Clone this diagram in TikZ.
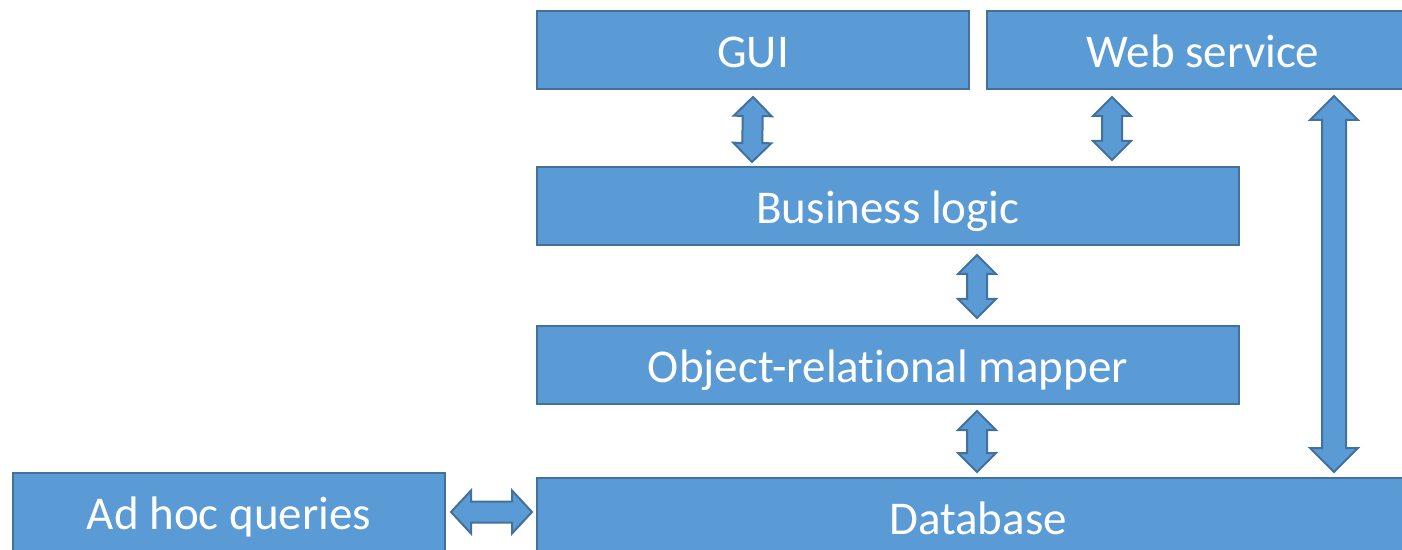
\documentclass[tikz,border=0pt]{standalone}
\usepackage{fontspec}
\setmainfont[Ligatures={NoCommon}]{Carlito}
\usetikzlibrary{calc}

\definecolor{boxfill}{HTML}{5B9BD5}
\definecolor{boxline}{HTML}{41719C}

\tikzset{
  layer/.style={draw=boxline, fill=boxfill, line width=1pt, text=white,
    minimum height=39pt, inner sep=0pt, anchor=north west,
    text height=18.5pt, text depth=1pt,
    font=\fontsize{23.5pt}{28pt}\selectfont},
  blockarrow/.style={draw=boxline, fill=boxfill, line width=1pt, line join=miter}
}

% Double-headed block arrow between two named points:
% #1 start, #2 end, #3 shaft half width, #4 head half width, #5 head length
\newcommand\dblblockarrow[5]{%
  \filldraw[blockarrow]
    (#1)
    -- ($(#1)!#5!(#2)!#4!90:(#2)$)
    -- ($(#1)!#5!(#2)!#3!90:(#2)$)
    -- ($(#2)!#5!(#1)!#3!-90:(#1)$)
    -- ($(#2)!#5!(#1)!#4!-90:(#1)$)
    -- (#2)
    -- ($(#2)!#5!(#1)!#4!90:(#1)$)
    -- ($(#2)!#5!(#1)!#3!90:(#1)$)
    -- ($(#1)!#5!(#2)!#3!-90:(#2)$)
    -- ($(#1)!#5!(#2)!#4!-90:(#2)$)
    -- cycle;}

\begin{document}
\begin{tikzpicture}[x=0.5pt, y=-0.5pt]
  \useasboundingbox (0,0) rectangle (1402,550);
  \clip (0,0) rectangle (1402,550);

  % layers
  \node[layer, minimum width=216pt] (gui) at (536,10) {GUI};
  \node[layer, minimum width=216pt] (ws) at (986,10) {Web service};
  \node[layer, minimum width=351pt] (bl) at (536,166) {Business logic};
  \node[layer, minimum width=351pt] (orm) at (536,325) {Object-relational mapper};
  \node[layer, minimum width=441pt] (db) at (536,477) {Database};
  \node[layer, minimum width=216pt] (adhoc) at (12,472) {Ad hoc queries};

  % arrow end points
  \coordinate (guiB) at ($(gui.south)+(0,7)$);
  \coordinate (blT1) at ($(bl.north west)+(216,-4)$);
  \coordinate (wsB)  at ($(ws.south west)+(126,7)$);
  \coordinate (blT2) at ($(bl.north west)+(576,-6)$);
  \coordinate (blB)  at ($(bl.south west)+(441,9)$);
  \coordinate (ormT) at ($(orm.north west)+(441,-7)$);
  \coordinate (ormB) at ($(orm.south west)+(441,6)$);
  \coordinate (dbT1) at ($(db.north west)+(441,-5)$);
  \coordinate (wsB2) at ($(ws.south west)+(348,6)$);
  \coordinate (dbT2) at ($(db.north west)+(798,-5)$);
  \coordinate (adR)  at ($(adhoc.east)+(5,0)$);
  \coordinate (dbL)  at ($(db.west)+(-4,-5)$);

  % connectors
  \dblblockarrow{guiB}{blT1}{5pt}{9.5pt}{9.5pt}
  \dblblockarrow{wsB}{blT2}{5pt}{9.5pt}{9.5pt}
  \dblblockarrow{blB}{ormT}{5pt}{9.5pt}{9.5pt}
  \dblblockarrow{ormB}{dbT1}{5pt}{9.5pt}{9.5pt}
  \dblblockarrow{wsB2}{dbT2}{6pt}{12pt}{12pt}
  \dblblockarrow{adR}{dbL}{5.25pt}{10.75pt}{10pt}
\end{tikzpicture}
\end{document}
